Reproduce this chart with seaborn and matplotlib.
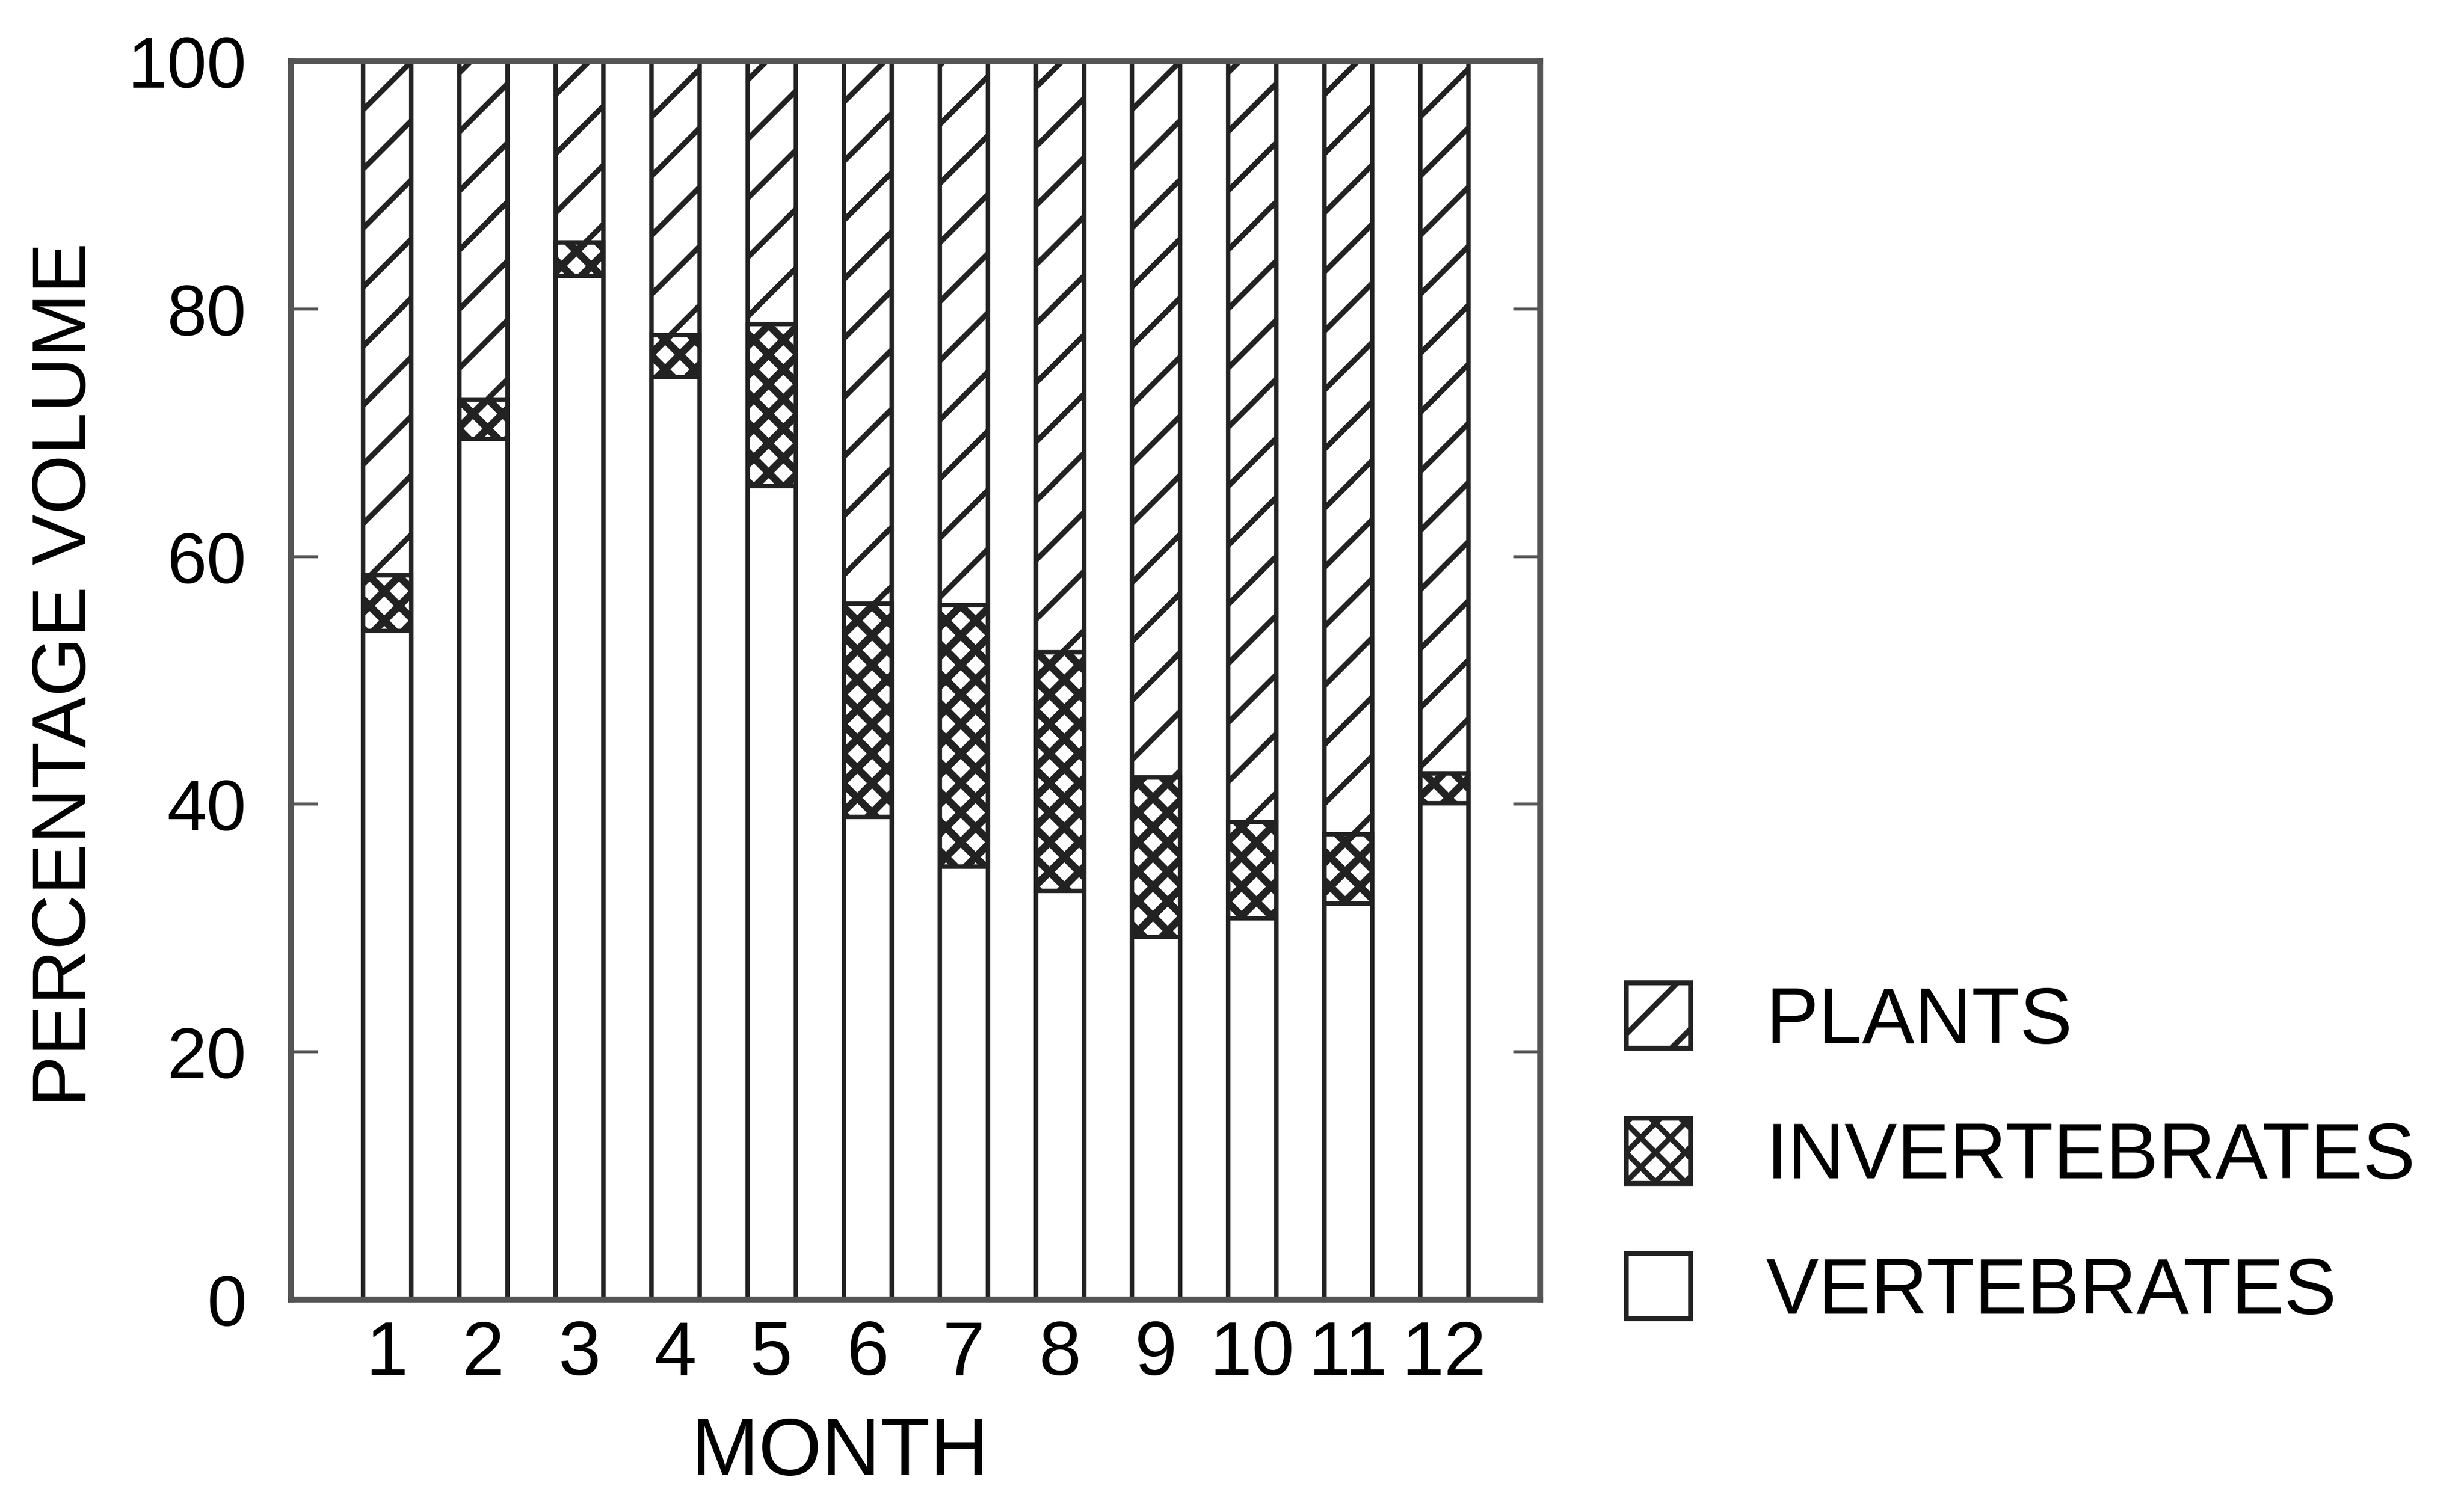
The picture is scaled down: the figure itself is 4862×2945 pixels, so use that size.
import matplotlib
matplotlib.use("Agg")
import matplotlib.pyplot as plt
import matplotlib.patches as mpatches
import seaborn as sns
import pandas as pd

# Values (percent of volume per month)
months = ["1", "2", "3", "4", "5", "6", "7", "8", "9", "10", "11", "12"]
vertebrates = [54.0, 69.5, 82.7, 74.5, 65.7, 39.0, 35.0, 33.0, 29.3, 30.8, 32.0, 40.1]
invertebrates = [4.5, 3.2, 2.7, 3.4, 13.1, 17.2, 21.1, 19.3, 12.9, 7.8, 5.6, 2.4]
plants = [41.5, 27.3, 14.6, 22.1, 21.2, 43.8, 43.9, 47.7, 57.8, 61.4, 62.4, 57.5]

df = pd.DataFrame({"month": months, "vertebrates": vertebrates,
                   "invertebrates": invertebrates, "plants": plants})
df["inv_top"] = df["vertebrates"] + df["invertebrates"]
df["plant_top"] = df["inv_top"] + df["plants"]

sns.set_style("ticks")
plt.rcParams["font.family"] = ["Liberation Sans", "DejaVu Sans"]
plt.rcParams["hatch.linewidth"] = 1.1
plt.rcParams["hatch.color"] = "#111111"
plt.rcParams["text.color"] = "black"
plt.rcParams["xtick.color"] = "black"
plt.rcParams["ytick.color"] = "black"

DPI = 700
fig = plt.figure(figsize=(4862 / DPI, 2946 / DPI), dpi=DPI)
ax = fig.add_axes([0.1181, 0.1290, 0.5070, 0.8296])

edge = "#222222"
bar_kw = dict(color="white", saturation=1, edgecolor=edge, linewidth=0.9,
              width=0.5, errorbar=None, ax=ax)

# stacked by overdrawing cumulative heights
sns.barplot(data=df, x="month", y="plant_top", hatch="//", **bar_kw)
n_before = len(ax.patches)
sns.barplot(data=df, x="month", y="inv_top", hatch="xxxx", **bar_kw)
inv_bars = ax.patches[n_before:]
sns.barplot(data=df, x="month", y="vertebrates", **bar_kw)

# thicker lines for the checkered pattern, if this matplotlib allows it
for p in inv_bars:
    if hasattr(p, "set_hatch_linewidth"):
        p.set_hatch_linewidth(1.5)

ax.set_xlim(-1, 12)
ax.set_ylim(0, 100)
ax.set_yticks([0, 20, 40, 60, 80, 100])
ax.set_xlabel("")
ax.set_ylabel("")
ax.tick_params(axis="y", direction="in", length=5.5, width=0.6, color="#555555",
               left=True, right=True, labelsize=14.5, pad=9, labelcolor="black")
ax.tick_params(axis="x", length=0, labelsize=15.5, pad=4, labelcolor="black")
for side in ["left", "right", "top", "bottom"]:
    ax.spines[side].set_visible(True)
    ax.spines[side].set_color("#555555")
    ax.spines[side].set_linewidth(1.2)

fig.text(0.0267, 0.548, "PERCENTAGE VOLUME", rotation=90, fontsize=15.5,
         ha="center", va="center")
fig.text(0.341, 0.012, "MONTH", fontsize=16.5, ha="center", va="baseline")

inv_patch = mpatches.Patch(facecolor="white", edgecolor=edge, hatch="xxxx",
                           linewidth=1.0, label="INVERTEBRATES")
if hasattr(inv_patch, "set_hatch_linewidth"):
    inv_patch.set_hatch_linewidth(1.5)
handles = [
    mpatches.Patch(facecolor="white", edgecolor=edge, hatch="//", linewidth=1.0, label="PLANTS"),
    inv_patch,
    mpatches.Patch(facecolor="white", edgecolor=edge, linewidth=1.0, label="VERTEBRATES"),
]
fig.legend(handles=handles, loc="center left", bbox_to_anchor=(0.660, 0.225),
           frameon=False, fontsize=16, handlelength=0.82, handleheight=0.9,
           handletextpad=0.95, labelspacing=0.75, borderpad=0, borderaxespad=0)

fig.savefig("out.png", dpi=DPI)
